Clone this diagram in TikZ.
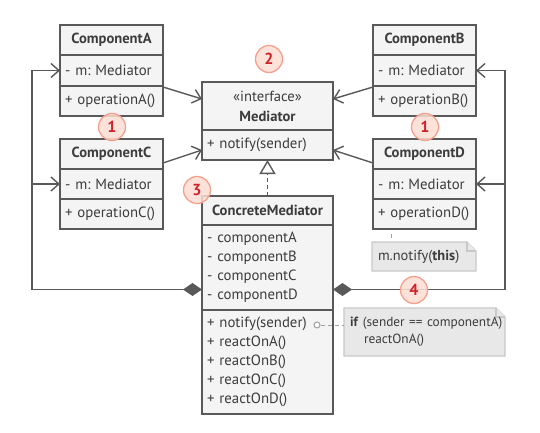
\documentclass[tikz,border=0pt]{standalone}
\usepackage{fontspec}
\setmainfont{PT Sans}
\frenchspacing
\usetikzlibrary{arrows.meta,calc,backgrounds}
\definecolor{linec}{HTML}{595959}
\definecolor{boxfill}{HTML}{F4F4F4}
\definecolor{textc}{HTML}{3C3C3C}
\definecolor{badgefill}{HTML}{FDDDD4}
\definecolor{badgeline}{HTML}{F5A08C}
\definecolor{badgetext}{HTML}{D0202A}
\definecolor{notefill}{HTML}{E8E8E8}
\definecolor{noteline}{HTML}{C8C8C8}
\begin{document}
\begin{tikzpicture}[x=1pt,y=-1pt,
  cell/.style={draw=linec, fill=boxfill, line width=1.4pt, anchor=north west, outer sep=0pt,
    inner ysep=0pt, inner xsep=5pt, text=textc, font=\fontsize{14.8}{19}\selectfont},
  hcell/.style={cell, font=\fontsize{14.6}{20}\selectfont\bfseries, align=center, minimum width=#1},
  mcell/.style={cell, align=left, text width=#1-10pt},
  frame/.style={draw=linec, line width=1.4pt, rounded corners=2pt},
  conn/.style={draw=linec, line width=1.4pt},
  openarrow/.style={-{Straight Barb[length=8pt,width=14pt,line width=1.4pt]}},
  diam/.style={-{Diamond[length=19pt,width=13pt,fill=linec]}},
  badge/.style={circle, fill=badgefill, fill opacity=0.85, text opacity=1, draw=badgeline, line width=1.3pt,
    minimum size=27pt, inner sep=0pt, text=badgetext, font=\fontsize{16}{16}\selectfont\bfseries},
  notetext/.style={anchor=north west, outer sep=0pt, inner xsep=6pt, inner ysep=0pt, text=textc,
    font=\fontsize{13.3}{17}\selectfont, align=left},
  noteshape/.style={fill=notefill, draw=noteline, line width=1.4pt}
]
\useasboundingbox (0,0) rectangle (540,433);

% ComponentA
\node[hcell=103pt, minimum height=30pt] (Ah) at (60,25) {ComponentA};
\node[mcell=103pt, minimum height=31pt] (Aa) at (Ah.south west) {- m: Mediator};
\node[mcell=103pt, minimum height=30pt] (Am) at (Aa.south west) {+ operationA()};
\draw[frame] (Ah.north west) rectangle (Am.south east);

% ComponentC
\node[hcell=103pt, minimum height=30pt] (Ch) at (60,139) {ComponentC};
\node[mcell=103pt, minimum height=30pt] (Ca) at (Ch.south west) {- m: Mediator};
\node[mcell=103pt, minimum height=30pt] (Cm) at (Ca.south west) {+ operationC()};
\draw[frame] (Ch.north west) rectangle (Cm.south east);

% ComponentB
\node[hcell=103pt, minimum height=30pt] (Bh) at (373,25) {ComponentB};
\node[mcell=103pt, minimum height=31pt] (Ba) at (Bh.south west) {- m: Mediator};
\node[mcell=103pt, minimum height=30pt] (Bm) at (Ba.south west) {+ operationB()};
\draw[frame] (Bh.north west) rectangle (Bm.south east);

% ComponentD
\node[hcell=103pt, minimum height=30pt] (Dh) at (373,139) {ComponentD};
\node[mcell=103pt, minimum height=30pt] (Da) at (Dh.south west) {- m: Mediator};
\node[mcell=103pt, minimum height=30pt] (Dm) at (Da.south west) {+ operationD()};
\draw[frame] (Dh.north west) rectangle (Dm.south east);

% Mediator interface
\node[hcell=131pt, minimum height=48pt] (Mh) at (202,82) {\mdseries «interface»\\Mediator};
\node[mcell=131pt, minimum height=30pt] (Mm) at (Mh.south west) {+ notify(sender)};
\draw[frame] (Mh.north west) rectangle (Mm.south east);

% ConcreteMediator
\node[hcell=131pt, minimum height=29pt] (CMh) at (202,196) {ConcreteMediator};
\node[mcell=131pt, minimum height=85pt] (CMa) at (CMh.south west) {- componentA\\- componentB\\- componentC\\- componentD};
\node[mcell=131pt, minimum height=104pt] (CMm) at (CMa.south west) {+ notify(sender)\\+ reactOnA()\\+ reactOnB()\\+ reactOnC()\\+ reactOnD()};
\draw[frame] (CMh.north west) rectangle (CMm.south east);

% arrows to mediator
\draw[conn, openarrow] ($(Am.north east)+(0,1)$) -- ($(Mh.north west)+(0,17)$);
\draw[conn, openarrow] ($(Ch.north east)+(0,24)$) -- ($(Mm.north west)+(0,20)$);
\draw[conn, openarrow] ($(Bm.north west)+(0,1)$) -- ($(Mh.north east)+(0,17)$);
\draw[conn, openarrow] ($(Dh.north west)+(0,24)$) -- ($(Mm.north east)+(0,20)$);

% realization
\draw[conn, dash pattern=on 4pt off 3pt, -{Triangle[open,length=14pt,width=16pt,line width=1.4pt]}] (CMh.north) -- (Mm.south);

% left bus
\coordinate (L1) at ($(Aa.west)+(-28,0)$);
\coordinate (L2) at (L1 |- Ca.west);
\coordinate (L3) at ($(L1)+(0,219)$);
\draw[conn, openarrow] (L1) -- (Aa.west);
\draw[conn, openarrow] (L2) -- (Ca.west);
\draw[conn, diam] (L1) -- (L3) -- (CMa.west |- L3);

% right bus
\coordinate (R1) at ($(Ba.east)+(29,0)$);
\coordinate (R2) at (R1 |- Da.east);
\coordinate (R3) at ($(R1)+(0,219)$);
\draw[conn, openarrow] (R1) -- (Ba.east);
\draw[conn, openarrow] (R2) -- (Da.east);
\draw[conn, diam] (R1) -- (R3) -- (CMa.east |- R3);

% notes
\node[notetext, text width=92pt, minimum height=29pt, font=\fontsize{14.4}{17}\selectfont] (n1) at (372,242) {m.notify(\textbf{this})};
\node[notetext, text width=149pt, minimum height=48pt] (n2) at (344,308) {\mbox{\textbf{if} (sender == componentA)}\\\hspace{14pt}reactOnA()};
\begin{scope}[on background layer]
  \path[noteshape] (n1.north west) -- ($(n1.north east)+(-9,0)$) -- ($(n1.north east)+(0,9)$) -- (n1.south east) -- (n1.south west) -- cycle;
  \path[noteshape] ($(n1.north east)+(-9,0)$) -- ($(n1.north east)+(-9,9)$) -- ($(n1.north east)+(0,9)$);
  \path[noteshape] (n2.north west) -- ($(n2.north east)+(-9,0)$) -- ($(n2.north east)+(0,9)$) -- (n2.south east) -- (n2.south west) -- cycle;
  \path[noteshape] ($(n2.north east)+(-9,0)$) -- ($(n2.north east)+(-9,9)$) -- ($(n2.north east)+(0,9)$);
\end{scope}

% note connectors
\node[circle, draw=noteline!80!black, fill=white, line width=1pt, minimum size=6pt, inner sep=0pt] (c1) at ($(CMm.north east)+(-16,15)$) {};
\draw[noteline!80!black, line width=1pt, dash pattern=on 4pt off 3pt] (c1) -- (n2.west |- c1);
\draw[noteline!80!black, line width=1pt, dash pattern=on 0pt off 5pt on 4pt off 20pt] ($(Dm.south west)+(18,0)$) -- ($(n1.north west)+(19,0)$);

% badges
\node[badge] (b2) at (269,59) {2};
\node[badge] (b1a) at (112,127) {1};
\node[badge] (b1b) at (425,127) {1};
\node[badge] (b3) at (197,190) {3};
\node[badge] (b4) at (414,290) {4};
\end{tikzpicture}
\end{document}
